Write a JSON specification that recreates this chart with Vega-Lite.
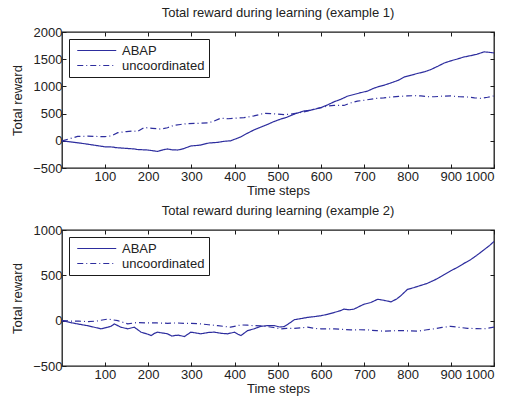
{
  "$schema": "https://vega.github.io/schema/vega-lite/v6.json",
  "padding": {"left": 11, "top": 6, "right": 6, "bottom": 0},
  "background": "white",
  "config": {
    "font": "Liberation Sans",
    "view": {"stroke": "#1a1a1a", "strokeWidth": 1.3},
    "axis": {
      "labelFontSize": 13, "titleFontSize": 13, "titleFontWeight": "normal",
      "labelColor": "#222222", "titleColor": "#222222",
      "tickColor": "#1a1a1a", "tickSize": -4, "tickWidth": 1, "domain": false, "grid": false
    },
    "axisX": {"labelPadding": 6},
    "axisY": {"labelPadding": 4},
    "title": {"fontSize": 13, "fontWeight": "normal", "color": "#222222", "offset": 6}
  },
  "datasets": {
    "ex1": [
      {"series": "ABAP", "t": 1, "r": 0}, {"series": "ABAP", "t": 50, "r": -50}, {"series": "ABAP", "t": 100, "r": -110}, {"series": "ABAP", "t": 120, "r": -115}, {"series": "ABAP", "t": 125, "r": -125}, {"series": "ABAP", "t": 168, "r": -150}, {"series": "ABAP", "t": 175, "r": -160}, {"series": "ABAP", "t": 200, "r": -170}, {"series": "ABAP", "t": 222, "r": -195}, {"series": "ABAP", "t": 235, "r": -165}, {"series": "ABAP", "t": 245, "r": -150}, {"series": "ABAP", "t": 255, "r": -165}, {"series": "ABAP", "t": 268, "r": -170}, {"series": "ABAP", "t": 280, "r": -150}, {"series": "ABAP", "t": 299, "r": -95}, {"series": "ABAP", "t": 320, "r": -80}, {"series": "ABAP", "t": 341, "r": -40}, {"series": "ABAP", "t": 360, "r": -30}, {"series": "ABAP", "t": 375, "r": -10}, {"series": "ABAP", "t": 391, "r": 0}, {"series": "ABAP", "t": 414, "r": 70}, {"series": "ABAP", "t": 430, "r": 140}, {"series": "ABAP", "t": 445, "r": 200}, {"series": "ABAP", "t": 460, "r": 250}, {"series": "ABAP", "t": 476, "r": 300}, {"series": "ABAP", "t": 490, "r": 350}, {"series": "ABAP", "t": 507, "r": 400}, {"series": "ABAP", "t": 520, "r": 430}, {"series": "ABAP", "t": 538, "r": 490}, {"series": "ABAP", "t": 561, "r": 550}, {"series": "ABAP", "t": 575, "r": 560}, {"series": "ABAP", "t": 600, "r": 610}, {"series": "ABAP", "t": 615, "r": 660}, {"series": "ABAP", "t": 631, "r": 720}, {"series": "ABAP", "t": 645, "r": 760}, {"series": "ABAP", "t": 661, "r": 820}, {"series": "ABAP", "t": 680, "r": 860}, {"series": "ABAP", "t": 692, "r": 885}, {"series": "ABAP", "t": 708, "r": 915}, {"series": "ABAP", "t": 720, "r": 960}, {"series": "ABAP", "t": 731, "r": 990}, {"series": "ABAP", "t": 745, "r": 1020}, {"series": "ABAP", "t": 762, "r": 1065}, {"series": "ABAP", "t": 778, "r": 1110}, {"series": "ABAP", "t": 793, "r": 1175}, {"series": "ABAP", "t": 810, "r": 1210}, {"series": "ABAP", "t": 824, "r": 1240}, {"series": "ABAP", "t": 840, "r": 1270}, {"series": "ABAP", "t": 854, "r": 1310}, {"series": "ABAP", "t": 870, "r": 1370}, {"series": "ABAP", "t": 885, "r": 1430}, {"series": "ABAP", "t": 900, "r": 1470}, {"series": "ABAP", "t": 916, "r": 1505}, {"series": "ABAP", "t": 930, "r": 1540}, {"series": "ABAP", "t": 946, "r": 1565}, {"series": "ABAP", "t": 960, "r": 1590}, {"series": "ABAP", "t": 977, "r": 1635}, {"series": "ABAP", "t": 985, "r": 1630}, {"series": "ABAP", "t": 1000, "r": 1615},
      {"series": "uncoordinated", "t": 1, "r": 0}, {"series": "uncoordinated", "t": 15, "r": 30}, {"series": "uncoordinated", "t": 37, "r": 80}, {"series": "uncoordinated", "t": 60, "r": 85}, {"series": "uncoordinated", "t": 100, "r": 75}, {"series": "uncoordinated", "t": 115, "r": 90}, {"series": "uncoordinated", "t": 130, "r": 150}, {"series": "uncoordinated", "t": 150, "r": 170}, {"series": "uncoordinated", "t": 168, "r": 180}, {"series": "uncoordinated", "t": 175, "r": 170}, {"series": "uncoordinated", "t": 191, "r": 245}, {"series": "uncoordinated", "t": 210, "r": 230}, {"series": "uncoordinated", "t": 230, "r": 215}, {"series": "uncoordinated", "t": 245, "r": 240}, {"series": "uncoordinated", "t": 260, "r": 285}, {"series": "uncoordinated", "t": 275, "r": 300}, {"series": "uncoordinated", "t": 291, "r": 317}, {"series": "uncoordinated", "t": 322, "r": 323}, {"series": "uncoordinated", "t": 340, "r": 330}, {"series": "uncoordinated", "t": 353, "r": 365}, {"series": "uncoordinated", "t": 368, "r": 415}, {"series": "uncoordinated", "t": 385, "r": 405}, {"series": "uncoordinated", "t": 400, "r": 415}, {"series": "uncoordinated", "t": 422, "r": 425}, {"series": "uncoordinated", "t": 445, "r": 457}, {"series": "uncoordinated", "t": 468, "r": 505}, {"series": "uncoordinated", "t": 485, "r": 500}, {"series": "uncoordinated", "t": 499, "r": 490}, {"series": "uncoordinated", "t": 515, "r": 480}, {"series": "uncoordinated", "t": 530, "r": 490}, {"series": "uncoordinated", "t": 553, "r": 520}, {"series": "uncoordinated", "t": 570, "r": 550}, {"series": "uncoordinated", "t": 584, "r": 580}, {"series": "uncoordinated", "t": 600, "r": 610}, {"series": "uncoordinated", "t": 615, "r": 640}, {"series": "uncoordinated", "t": 630, "r": 650}, {"series": "uncoordinated", "t": 653, "r": 650}, {"series": "uncoordinated", "t": 670, "r": 700}, {"series": "uncoordinated", "t": 684, "r": 730}, {"series": "uncoordinated", "t": 700, "r": 745}, {"series": "uncoordinated", "t": 723, "r": 775}, {"series": "uncoordinated", "t": 745, "r": 790}, {"series": "uncoordinated", "t": 762, "r": 805}, {"series": "uncoordinated", "t": 780, "r": 815}, {"series": "uncoordinated", "t": 800, "r": 825}, {"series": "uncoordinated", "t": 815, "r": 830}, {"series": "uncoordinated", "t": 831, "r": 825}, {"series": "uncoordinated", "t": 850, "r": 810}, {"series": "uncoordinated", "t": 862, "r": 810}, {"series": "uncoordinated", "t": 880, "r": 820}, {"series": "uncoordinated", "t": 900, "r": 825}, {"series": "uncoordinated", "t": 920, "r": 810}, {"series": "uncoordinated", "t": 939, "r": 805}, {"series": "uncoordinated", "t": 955, "r": 790}, {"series": "uncoordinated", "t": 970, "r": 780}, {"series": "uncoordinated", "t": 985, "r": 800}, {"series": "uncoordinated", "t": 1000, "r": 825}
    ],
    "ex2": [
      {"series": "ABAP", "t": 1, "r": 0}, {"series": "ABAP", "t": 20, "r": -20}, {"series": "ABAP", "t": 37, "r": -36}, {"series": "ABAP", "t": 60, "r": -55}, {"series": "ABAP", "t": 91, "r": -90}, {"series": "ABAP", "t": 100, "r": -80}, {"series": "ABAP", "t": 107, "r": -72}, {"series": "ABAP", "t": 115, "r": -60}, {"series": "ABAP", "t": 122, "r": -36}, {"series": "ABAP", "t": 130, "r": -55}, {"series": "ABAP", "t": 137, "r": -72}, {"series": "ABAP", "t": 153, "r": -90}, {"series": "ABAP", "t": 168, "r": -72}, {"series": "ABAP", "t": 184, "r": -127}, {"series": "ABAP", "t": 200, "r": -150}, {"series": "ABAP", "t": 207, "r": -164}, {"series": "ABAP", "t": 215, "r": -140}, {"series": "ABAP", "t": 222, "r": -127}, {"series": "ABAP", "t": 245, "r": -145}, {"series": "ABAP", "t": 255, "r": -170}, {"series": "ABAP", "t": 261, "r": -164}, {"series": "ABAP", "t": 270, "r": -160}, {"series": "ABAP", "t": 284, "r": -175}, {"series": "ABAP", "t": 299, "r": -127}, {"series": "ABAP", "t": 310, "r": -135}, {"series": "ABAP", "t": 322, "r": -145}, {"series": "ABAP", "t": 340, "r": -130}, {"series": "ABAP", "t": 353, "r": -127}, {"series": "ABAP", "t": 370, "r": -140}, {"series": "ABAP", "t": 384, "r": -145}, {"series": "ABAP", "t": 400, "r": -127}, {"series": "ABAP", "t": 408, "r": -150}, {"series": "ABAP", "t": 415, "r": -164}, {"series": "ABAP", "t": 430, "r": -110}, {"series": "ABAP", "t": 445, "r": -90}, {"series": "ABAP", "t": 461, "r": -62}, {"series": "ABAP", "t": 475, "r": -55}, {"series": "ABAP", "t": 492, "r": -55}, {"series": "ABAP", "t": 505, "r": -70}, {"series": "ABAP", "t": 515, "r": -65}, {"series": "ABAP", "t": 530, "r": -18}, {"series": "ABAP", "t": 538, "r": 10}, {"series": "ABAP", "t": 550, "r": 20}, {"series": "ABAP", "t": 569, "r": 36}, {"series": "ABAP", "t": 585, "r": 45}, {"series": "ABAP", "t": 600, "r": 55}, {"series": "ABAP", "t": 615, "r": 70}, {"series": "ABAP", "t": 631, "r": 91}, {"series": "ABAP", "t": 645, "r": 110}, {"series": "ABAP", "t": 653, "r": 127}, {"series": "ABAP", "t": 665, "r": 120}, {"series": "ABAP", "t": 676, "r": 127}, {"series": "ABAP", "t": 690, "r": 160}, {"series": "ABAP", "t": 700, "r": 182}, {"series": "ABAP", "t": 715, "r": 200}, {"series": "ABAP", "t": 731, "r": 236}, {"series": "ABAP", "t": 745, "r": 225}, {"series": "ABAP", "t": 762, "r": 207}, {"series": "ABAP", "t": 775, "r": 240}, {"series": "ABAP", "t": 784, "r": 273}, {"series": "ABAP", "t": 800, "r": 345}, {"series": "ABAP", "t": 815, "r": 365}, {"series": "ABAP", "t": 831, "r": 389}, {"series": "ABAP", "t": 845, "r": 410}, {"series": "ABAP", "t": 862, "r": 447}, {"series": "ABAP", "t": 875, "r": 480}, {"series": "ABAP", "t": 885, "r": 509}, {"series": "ABAP", "t": 900, "r": 550}, {"series": "ABAP", "t": 916, "r": 589}, {"series": "ABAP", "t": 930, "r": 630}, {"series": "ABAP", "t": 946, "r": 673}, {"series": "ABAP", "t": 960, "r": 720}, {"series": "ABAP", "t": 977, "r": 782}, {"series": "ABAP", "t": 990, "r": 830}, {"series": "ABAP", "t": 1000, "r": 873},
      {"series": "uncoordinated", "t": 1, "r": 0}, {"series": "uncoordinated", "t": 22, "r": -5}, {"series": "uncoordinated", "t": 40, "r": -5}, {"series": "uncoordinated", "t": 60, "r": -11}, {"series": "uncoordinated", "t": 80, "r": -5}, {"series": "uncoordinated", "t": 107, "r": 18}, {"series": "uncoordinated", "t": 130, "r": 0}, {"series": "uncoordinated", "t": 153, "r": -36}, {"series": "uncoordinated", "t": 175, "r": -20}, {"series": "uncoordinated", "t": 199, "r": -25}, {"series": "uncoordinated", "t": 220, "r": -25}, {"series": "uncoordinated", "t": 245, "r": -29}, {"series": "uncoordinated", "t": 265, "r": -25}, {"series": "uncoordinated", "t": 284, "r": -29}, {"series": "uncoordinated", "t": 300, "r": -30}, {"series": "uncoordinated", "t": 322, "r": -36}, {"series": "uncoordinated", "t": 340, "r": -45}, {"series": "uncoordinated", "t": 361, "r": -55}, {"series": "uncoordinated", "t": 391, "r": -72}, {"series": "uncoordinated", "t": 415, "r": -47}, {"series": "uncoordinated", "t": 430, "r": -50}, {"series": "uncoordinated", "t": 445, "r": -55}, {"series": "uncoordinated", "t": 460, "r": -58}, {"series": "uncoordinated", "t": 476, "r": -65}, {"series": "uncoordinated", "t": 490, "r": -75}, {"series": "uncoordinated", "t": 507, "r": -90}, {"series": "uncoordinated", "t": 520, "r": -86}, {"series": "uncoordinated", "t": 538, "r": -84}, {"series": "uncoordinated", "t": 555, "r": -78}, {"series": "uncoordinated", "t": 569, "r": -72}, {"series": "uncoordinated", "t": 585, "r": -85}, {"series": "uncoordinated", "t": 600, "r": -90}, {"series": "uncoordinated", "t": 615, "r": -90}, {"series": "uncoordinated", "t": 631, "r": -90}, {"series": "uncoordinated", "t": 650, "r": -96}, {"series": "uncoordinated", "t": 669, "r": -102}, {"series": "uncoordinated", "t": 690, "r": -100}, {"series": "uncoordinated", "t": 708, "r": -102}, {"series": "uncoordinated", "t": 728, "r": -110}, {"series": "uncoordinated", "t": 746, "r": -116}, {"series": "uncoordinated", "t": 765, "r": -112}, {"series": "uncoordinated", "t": 784, "r": -109}, {"series": "uncoordinated", "t": 800, "r": -112}, {"series": "uncoordinated", "t": 824, "r": -116}, {"series": "uncoordinated", "t": 845, "r": -100}, {"series": "uncoordinated", "t": 862, "r": -90}, {"series": "uncoordinated", "t": 880, "r": -75}, {"series": "uncoordinated", "t": 900, "r": -62}, {"series": "uncoordinated", "t": 920, "r": -75}, {"series": "uncoordinated", "t": 939, "r": -84}, {"series": "uncoordinated", "t": 960, "r": -88}, {"series": "uncoordinated", "t": 977, "r": -90}, {"series": "uncoordinated", "t": 990, "r": -80}, {"series": "uncoordinated", "t": 1000, "r": -72}
    ]
  },
  "spacing": 6,
  "vconcat": [
    {
      "title": {"text": "Total reward during learning (example 1)"},
      "width": 432, "height": 136,
      "data": {"name": "ex1"},
      "layer": [
        {
          "mark": {"type": "line", "color": "#2d2d9e", "strokeWidth": 1.2, "clip": true},
          "encoding": {
            "x": {"field": "t", "type": "quantitative", "scale": {"domain": [1, 1000], "nice": false, "zero": false},
                  "axis": {"orient": "bottom", "values": [100, 200, 300, 400, 500, 600, 700, 800, 900, 1000], "format": "d", "title": "Time steps", "titlePadding": 1}},
            "y": {"field": "r", "type": "quantitative", "scale": {"domain": [-500, 2000], "nice": false, "zero": false},
                  "axis": {"orient": "left", "values": [-500, 0, 500, 1000, 1500, 2000], "format": "d", "title": "Total reward", "titlePadding": 8}},
            "strokeDash": {"field": "series", "type": "nominal",
                  "scale": {"domain": ["ABAP", "uncoordinated"], "range": [[1, 0], [6, 3, 1, 3]]},
                  "legend": {"title": null, "orient": "top-left", "offset": 7, "strokeColor": "#1a1a1a", "fillColor": "white", "padding": 4,
                             "symbolType": "M-0.5,0H5.5", "symbolSize": 169, "symbolStrokeWidth": 1.2, "symbolStrokeColor": "#2d2d9e",
                             "labelFontSize": 13, "labelColor": "#222222", "labelOffset": 34, "rowPadding": -2}}
          }
        },
        {
          "mark": {"type": "line", "opacity": 0},
          "encoding": {
            "x": {"field": "t", "type": "quantitative", "axis": {"orient": "top", "values": [100, 200, 300, 400, 500, 600, 700, 800, 900, 1000], "labels": false, "title": null}},
            "y": {"field": "r", "type": "quantitative", "axis": {"orient": "right", "values": [-500, 0, 500, 1000, 1500, 2000], "labels": false, "title": null}},
            "detail": {"field": "series"}
          }
        }
      ],
      "resolve": {"axis": {"x": "independent", "y": "independent"}}
    },
    {
      "title": {"text": "Total reward during learning (example 2)"},
      "width": 432, "height": 136,
      "data": {"name": "ex2"},
      "layer": [
        {
          "mark": {"type": "line", "color": "#2d2d9e", "strokeWidth": 1.2, "clip": true},
          "encoding": {
            "x": {"field": "t", "type": "quantitative", "scale": {"domain": [1, 1000], "nice": false, "zero": false},
                  "axis": {"orient": "bottom", "values": [100, 200, 300, 400, 500, 600, 700, 800, 900, 1000], "format": "d", "title": "Time steps", "titlePadding": 1}},
            "y": {"field": "r", "type": "quantitative", "scale": {"domain": [-500, 1000], "nice": false, "zero": false},
                  "axis": {"orient": "left", "values": [-500, 0, 500, 1000], "format": "d", "title": "Total reward", "titlePadding": 8}},
            "strokeDash": {"field": "series", "type": "nominal",
                  "scale": {"domain": ["ABAP", "uncoordinated"], "range": [[1, 0], [6, 3, 1, 3]]},
                  "legend": {"title": null, "orient": "top-left", "offset": 7, "strokeColor": "#1a1a1a", "fillColor": "white", "padding": 4,
                             "symbolType": "M-0.5,0H5.5", "symbolSize": 169, "symbolStrokeWidth": 1.2, "symbolStrokeColor": "#2d2d9e",
                             "labelFontSize": 13, "labelColor": "#222222", "labelOffset": 34, "rowPadding": -2}}
          }
        },
        {
          "mark": {"type": "line", "opacity": 0},
          "encoding": {
            "x": {"field": "t", "type": "quantitative", "axis": {"orient": "top", "values": [100, 200, 300, 400, 500, 600, 700, 800, 900, 1000], "labels": false, "title": null}},
            "y": {"field": "r", "type": "quantitative", "axis": {"orient": "right", "values": [-500, 0, 500, 1000], "labels": false, "title": null}},
            "detail": {"field": "series"}
          }
        }
      ],
      "resolve": {"axis": {"x": "independent", "y": "independent"}, "legend": {"strokeDash": "independent"}}
    }
  ],
  "resolve": {"legend": {"strokeDash": "independent"}, "scale": {"y": "independent"}}
}
